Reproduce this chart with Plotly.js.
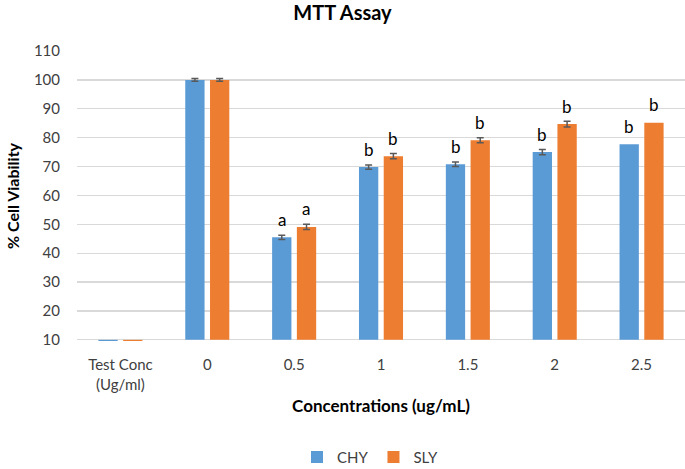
<!DOCTYPE html>
<html>
<head>
<meta charset="utf-8">
<script src="https://cdn.plot.ly/plotly-3.0.1.min.js"></script>
<style>html,body{margin:0;padding:0;background:#fff;}#chart{width:685px;height:469px;}</style>
</head>
<body>
<div id="chart"></div>
<script>
var categories = ['Test Conc<br>(Ug/ml)', '0', '0.5', '1', '1.5', '2', '2.5'];
var chyValues = [9.6, 100, 45.5, 69.8, 70.8, 75, 77.7];
var slyValues = [9.6, 100, 49.1, 73.6, 79.1, 84.7, 85.2];
var chyErrors = [NaN, 0.5, 0.75, 0.7, 0.8, 0.9, NaN];
var slyErrors = [NaN, 0.5, 0.9, 0.9, 0.85, 1.0, NaN];
var chyLetters = ['', '', 'a', 'b', 'b', 'b', 'b'];
var slyLetters = ['', '', 'a', 'b', 'b', 'b', 'b'];
var yTicks = [10, 20, 30, 40, 50, 60, 70, 80, 90, 100, 110];

var BASE = 10;
var FONT = 'Lato, "Open Sans", sans-serif';
var TXT = '#404040';

function mkTrace(name, vals, errs, color) {
  return {
    type: 'bar', name: name, x: categories.map(function (c, i) { return i; }),
    y: vals.map(function (v) { return v - BASE; }),
    base: BASE,
    marker: {color: color, line: {width: 0}},
    error_y: {type: 'data', array: errs, visible: true, color: '#595959', thickness: 1.5, width: 3.5},
    hoverinfo: 'skip'
  };
}

var traces = [
  mkTrace('CHY', chyValues, chyErrors, '#5B9BD5'),
  mkTrace('SLY', slyValues, slyErrors, '#ED7D31')
];

var annotations = [];
function addLetters(vals, letters, shift) {
  for (var i = 0; i < categories.length; i++) {
    if (!letters[i]) continue;
    annotations.push({
      x: i, y: vals[i], xref: 'x', yref: 'y',
      text: letters[i], showarrow: false,
      xshift: shift, yshift: 18, yanchor: 'middle', xanchor: 'center',
      font: {family: FONT, size: 17, color: '#000'}
    });
  }
}
addLetters(chyValues, chyLetters, -12.35);
addLetters(slyValues, slyLetters, 12.35);

var layout = {
  width: 685, height: 469,
  margin: {l: 77, r: 0, t: 51, b: 128},
  paper_bgcolor: '#fff', plot_bgcolor: '#fff',
  barmode: 'group', bargap: 0.43, bargroupgap: 0.22,
  showlegend: true,
  title: {text: '<b>MTT Assay</b>', x: 0.5, xref: 'container', xanchor: 'center',
          y: 1 - 13 / 469, yref: 'container', yanchor: 'middle',
          font: {family: FONT, size: 20, color: '#000'}},
  xaxis: {
    type: 'linear', range: [-0.5, categories.length - 0.5],
    tickmode: 'array', tickvals: categories.map(function (c, i) { return i; }), ticktext: categories,
    showgrid: false, zeroline: false, showline: false, ticks: '',
    ticklabelstandoff: 13,
    tickfont: {family: FONT, size: 15, color: TXT},
    title: {text: '<b>Concentrations (ug/mL)</b>', font: {family: FONT, size: 17, color: '#000'}, standoff: 8}
  },
  yaxis: {
    range: [9.6, 110], tickvals: yTicks, ticktext: yTicks.map(String),
    showgrid: true, gridcolor: '#d9d9d9', gridwidth: 1.3, zeroline: false, showline: false, ticks: '',
    tickfont: {family: FONT, size: 15, color: TXT},
    ticklabelstandoff: 16,
    title: {text: '<b>% Cell Viability</b>', font: {family: FONT, size: 16, color: '#000'}, standoff: 10}
  },
  legend: {orientation: 'h', xref: 'container', yref: 'container', x: 370 / 685, xanchor: 'center',
           y: 0.025, yanchor: 'middle', font: {family: FONT, size: 15, color: TXT}},
  annotations: annotations
};

Plotly.newPlot('chart', traces, layout, {displayModeBar: false, staticPlot: true});
</script>
</body>
</html>
